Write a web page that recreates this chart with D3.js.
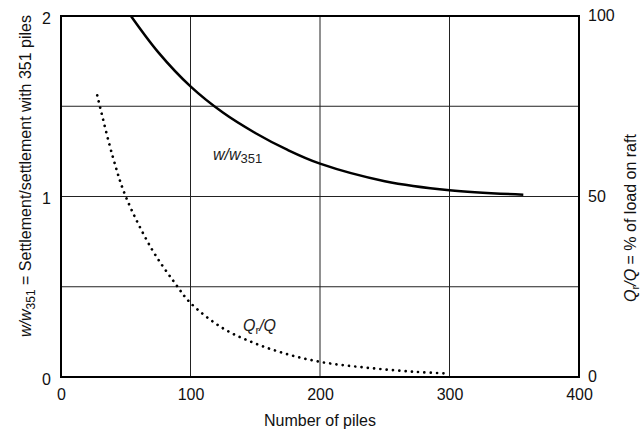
<!DOCTYPE html>
<html><head><meta charset="utf-8">
<script src="https://cdn.jsdelivr.net/npm/d3@7"></script>
<style>
body{margin:0;background:#fff;}
svg{display:block;font-family:"Liberation Sans",Arial,sans-serif;}
</style></head>
<body>
<svg id="chart" width="640" height="439"></svg>
<script>
// Data
const xTicks = [0, 100, 200, 300, 400];
const yLeftTicks = [0, 1, 2];
const yRightTicks = [0, 50, 100];
const gridY = [0.5, 1, 1.5];
const gridX = [100, 200, 300];
// settlement ratio w/w351 vs number of piles
const settlePiles = [54, 75, 100, 125, 150, 175, 200, 250, 300, 357];
const settleRatio = [2.0, 1.80, 1.61, 1.465, 1.352, 1.258, 1.182, 1.085, 1.035, 1.01];
// Qr/Q (% of load on raft) vs number of piles
const loadPiles = [28, 30, 40, 50, 70, 88, 100, 125, 150, 175, 200, 225, 250, 275, 297];
const loadPct = [78, 75, 61, 50, 35.5, 26, 20.5, 13.5, 9.3, 6.3, 4.2, 3.0, 2.1, 1.4, 1.0];

const svg = d3.select("#chart");
const L = 61, R = 579, T = 16, B = 377;
const x = d3.scaleLinear().domain([0, 400]).range([L, R]);
const yL = d3.scaleLinear().domain([0, 2]).range([B, T]);
const yR = d3.scaleLinear().domain([0, 100]).range([B, T]);

// grid
svg.append("g").selectAll("line").data(gridX).join("line")
  .attr("x1", d => x(d)).attr("x2", d => x(d)).attr("y1", T).attr("y2", B)
  .attr("stroke", "#222").attr("stroke-width", 1);
svg.append("g").selectAll("line").data(gridY).join("line")
  .attr("y1", d => yL(d)).attr("y2", d => yL(d)).attr("x1", L).attr("x2", R)
  .attr("stroke", "#222").attr("stroke-width", 1);

// frame
svg.append("rect").attr("x", L).attr("y", T).attr("width", R - L).attr("height", B - T)
  .attr("fill", "none").attr("stroke", "#000").attr("stroke-width", 2);

// axes (labels only)
const fs = 16;
const bottom = svg.append("g").attr("transform", `translate(0,${B})`)
  .call(d3.axisBottom(x).tickValues(xTicks).tickSize(0).tickPadding(12).tickFormat(d3.format("d")));
const left = svg.append("g").attr("transform", `translate(${L},0)`)
  .call(d3.axisLeft(yL).tickValues(yLeftTicks).tickSize(0).tickPadding(10).tickFormat(d3.format("d")));
const right = svg.append("g").attr("transform", `translate(${R},0)`)
  .call(d3.axisRight(yR).tickValues(yRightTicks).tickSize(0).tickPadding(9).tickFormat(d3.format("d")));
[bottom, left, right].forEach(g => {
  g.select(".domain").remove();
  g.selectAll("text").attr("font-size", fs).attr("fill", "#111")
    .attr("font-family", '"Liberation Sans",Arial,sans-serif');
});
left.selectAll("text").attr("dy", "0.45em");
right.selectAll("text").attr("dy", "0.3em");

// curves
const solidData = settlePiles.map((p, i) => [p, settleRatio[i]]);
const dotData = loadPiles.map((p, i) => [p, loadPct[i]]);
svg.append("path").datum(solidData)
  .attr("d", d3.line().x(d => x(d[0])).y(d => yL(d[1])).curve(d3.curveCatmullRom.alpha(0.5)))
  .attr("fill", "none").attr("stroke", "#000").attr("stroke-width", 2.5);
svg.append("path").datum(dotData)
  .attr("d", d3.line().x(d => x(d[0])).y(d => yR(d[1])).curve(d3.curveCatmullRom.alpha(0.5)))
  .attr("fill", "none").attr("stroke", "#000").attr("stroke-width", 2.7)
  .attr("stroke-linecap", "round").attr("stroke-dasharray", "0.01 6.3");

// in-plot labels
const t1 = svg.append("text").attr("x", 213).attr("y", 160).attr("font-size", fs).attr("fill", "#222");
t1.append("tspan").attr("font-style", "italic").text("w/w");
t1.append("tspan").attr("font-size", 13).attr("dy", 3).text("351");

const t2 = svg.append("text").attr("x", 243).attr("y", 331).attr("font-size", fs).attr("fill", "#222");
t2.append("tspan").attr("font-style", "italic").text("Q");
t2.append("tspan").attr("font-size", 11).attr("dy", 3).text("r");
t2.append("tspan").attr("font-style", "italic").attr("dy", -3).text("/Q");

// axis titles
svg.append("text").attr("x", 320).attr("y", 426).attr("text-anchor", "middle")
  .attr("font-size", fs).attr("fill", "#111").text("Number of piles");

const lt = svg.append("text").attr("transform", "translate(31,176) rotate(-90)")
  .attr("text-anchor", "middle").attr("font-size", fs).attr("fill", "#111");
lt.append("tspan").attr("font-style", "italic").text("w/w");
lt.append("tspan").attr("font-size", 12).attr("dy", 4).text("351");
lt.append("tspan").attr("dy", -4).text(" = Settlement/settlement with 351 piles");

const rt = svg.append("text").attr("transform", "translate(636,218) rotate(-90)")
  .attr("text-anchor", "middle").attr("font-size", fs).attr("fill", "#111");
rt.append("tspan").attr("font-style", "italic").text("Q");
rt.append("tspan").attr("font-size", 11).attr("dy", 3).text("r");
rt.append("tspan").attr("font-style", "italic").attr("dy", -3).text("/Q");
rt.append("tspan").text(" = % of load on raft");
</script>
</body></html>
